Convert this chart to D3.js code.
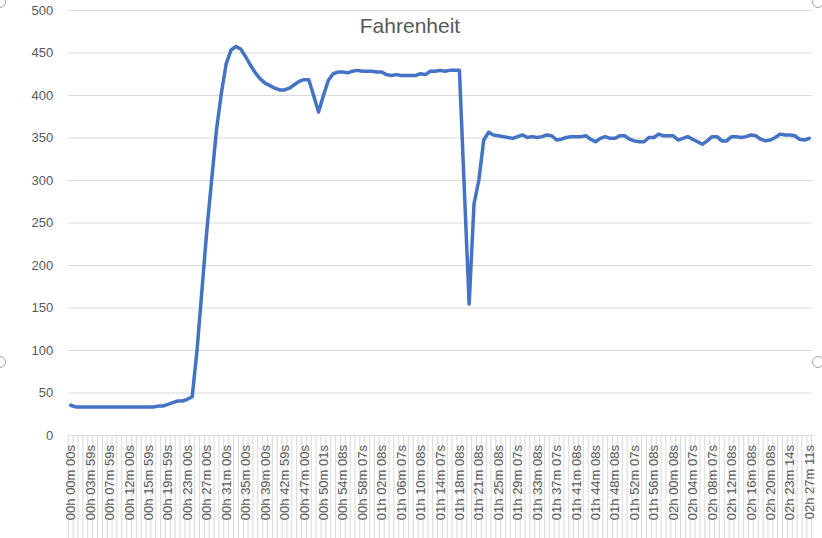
<!DOCTYPE html>
<html>
<head>
<meta charset="utf-8">
<script src="https://cdn.jsdelivr.net/npm/d3@7"></script>
<style>
  body { margin: 0; background: #fff; }
  svg { display: block; font-family: "Liberation Sans", Arial, sans-serif; }
  .axis text { fill: #595959; font-size: 13px; }
  .grid line { stroke: #d9d9d9; }
</style>
</head>
<body>
<script>
// temperature readings, one per sample (~1 min apart)
const fahrenheit = [
  35, 33, 33, 33, 33, 33, 33, 33, 33, 33,
  33, 33, 33, 33, 33, 33, 33, 33, 34, 34,
  36, 38, 40, 40, 42, 45, 100, 170, 240, 300,
  359, 402, 437, 453, 457, 454, 445, 435, 426, 419,
  414, 411, 408, 406, 406, 408, 412, 416, 418, 418,
  399, 380, 399, 417, 425, 427, 427, 426, 428, 429,
  428, 428, 428, 427, 427, 424, 423, 424, 423, 423,
  423, 423, 425, 424, 428, 428, 429, 428, 429, 429,
  429, 290, 154, 272, 300, 347, 356, 353, 352, 351,
  350, 349, 351, 353, 350, 351, 350, 351, 353, 352,
  347, 348, 350, 351, 351, 351, 352, 348, 345, 349,
  351, 349, 349, 352, 352, 348, 346, 345, 345, 350,
  350, 354, 352, 352, 352, 347, 349, 351, 348, 345,
  342, 346, 351, 351, 346, 346, 351, 351, 350, 351,
  353, 352, 348, 346, 347, 350, 354, 353, 353, 352,
  348, 347, 349
];
// labels shown on every 4th sample
const timeLabels = [
  '00h 00m 00s', '00h 03m 59s', '00h 07m 59s', '00h 12m 00s', '00h 15m 59s',
  '00h 19m 59s', '00h 23m 00s', '00h 27m 00s', '00h 31m 00s', '00h 35m 00s',
  '00h 39m 00s', '00h 42m 59s', '00h 47m 00s', '00h 50m 01s', '00h 54m 08s',
  '00h 58m 07s', '01h 02m 08s', '01h 06m 07s', '01h 10m 08s', '01h 14m 07s',
  '01h 18m 08s', '01h 21m 08s', '01h 25m 08s', '01h 29m 07s', '01h 33m 08s',
  '01h 37m 07s', '01h 41m 08s', '01h 44m 08s', '01h 48m 08s', '01h 52m 07s',
  '01h 56m 08s', '02h 00m 08s', '02h 04m 07s', '02h 08m 07s', '02h 12m 08s',
  '02h 16m 08s', '02h 20m 08s', '02h 23m 14s', '02h 27m 11s'
];
const labelStep = 4;
const yTicks = [0, 50, 100, 150, 200, 250, 300, 350, 400, 450, 500];
const chartTitle = 'Fahrenheit';

const W = 822, H = 538;
const margin = { top: 10, left: 68.3, right: 10.3, bottom: 103 };
const width = W - margin.left - margin.right;
const height = H - margin.top - margin.bottom;

const svgRoot = d3.select('body').append('svg')
    .attr('width', W)
    .attr('height', H);

const svg = svgRoot.append('g')
    .attr('transform', `translate(${margin.left}, ${margin.top})`);

const xscale = d3.scaleBand().domain(d3.range(fahrenheit.length)).range([0, width]).padding(0);
const yscale = d3.scaleLinear().domain([0, 500]).range([height, 0]);

//horizontal gridlines + y labels
const yaxis = d3.axisLeft(yscale).tickValues(yTicks).tickSize(-width).tickPadding(15);
svg.append('g').attr('class', 'axis grid yaxis').call(yaxis)
    .call((g) => g.select('.domain').remove());

//vertical category separators running down through the label area
svg.append('g').attr('class', 'grid')
    .selectAll('line').data(d3.range(fahrenheit.length + 1))
    .enter().append('line')
    .attr('x1', (i) => i * xscale.step())
    .attr('x2', (i) => i * xscale.step())
    .attr('y1', height)
    .attr('y2', H - margin.top)
    .attr('stroke', '#d9d9d9');

//x axis labels, every 4th sample
const xaxis = d3.axisBottom(xscale)
    .tickValues(d3.range(0, fahrenheit.length, labelStep))
    .tickFormat((i) => timeLabels[i / labelStep])
    .tickSize(0);
svg.append('g').attr('class', 'axis xaxis')
    .attr('transform', `translate(0,${height})`)
    .call(xaxis)
    .call((g) => g.select('.domain').attr('stroke', '#d9d9d9'))
    .selectAll('text')
    .attr('y', 0)
    .attr('x', -10)
    .attr('dy', '0.35em')
    .attr('transform', 'rotate(-90)')
    .style('text-anchor', 'end');

//the line
const line = d3.line()
    .x((d, i) => xscale(i) + xscale.bandwidth() / 2)
    .y((d) => yscale(d));
svg.append('path')
    .datum(fahrenheit)
    .attr('fill', 'none')
    .attr('stroke', '#4472c4')
    .attr('stroke-width', 3.5)
    .attr('stroke-linejoin', 'round')
    .attr('stroke-linecap', 'round')
    .attr('d', line);

//title
svgRoot.append('text')
    .attr('x', 410)
    .attr('y', 33)
    .attr('text-anchor', 'middle')
    .attr('fill', '#595959')
    .style('font-size', '21px')
    .text(chartTitle);

//selection handles of the chart frame
const handles = [[0, 2], [818, 2], [0, 362], [818, 362]];
svgRoot.append('g').selectAll('circle').data(handles)
    .enter().append('circle')
    .attr('cx', (d) => d[0])
    .attr('cy', (d) => d[1])
    .attr('r', 5.5)
    .attr('fill', '#fff')
    .attr('stroke', '#a6a6a6');
</script>
</body>
</html>
